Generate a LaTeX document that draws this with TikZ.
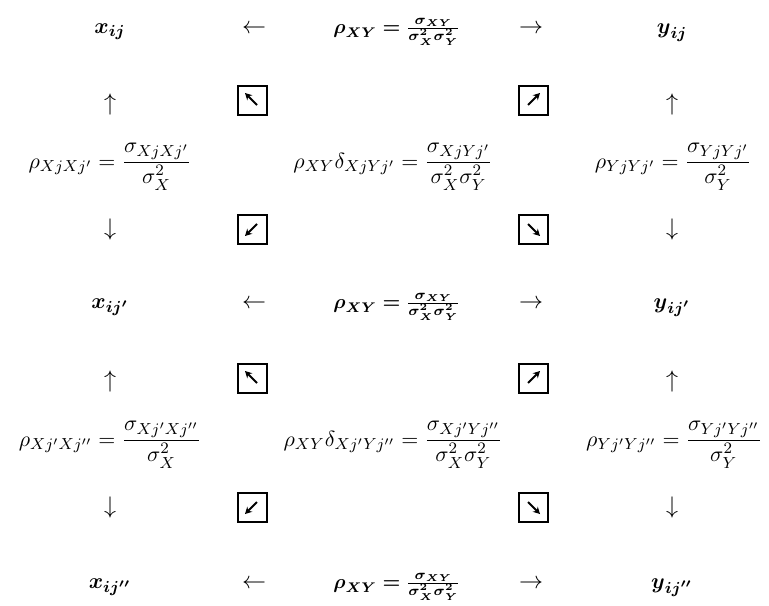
\documentclass[tikz,border=0pt]{standalone}
\usepackage{amsmath}
\usetikzlibrary{arrows.meta}
\newcommand{\bsy}[1]{\boldsymbol{#1}}
\newcommand{\bigrho}{\bsy{\rho}_{\bsy{XY}}\bsy{=}\tfrac{\bsy{\sigma}_{\bsy{XY}}}{\bsy{\sigma}^{\bsy{2}}_{\bsy{X}}\bsy{\sigma}^{\bsy{2}}_{\bsy{Y}}}}
\tikzset{
  mtxt/.style={inner sep=0pt, anchor=base},
  btxt/.style={inner sep=0pt, anchor=base, font=\fontsize{10.95}{13}\selectfont},
  etxt/.style={inner sep=0pt, anchor=base, font=\fontsize{10.95}{13}\selectfont},
  atxt/.style={inner sep=0pt, anchor=base, font=\large},
  vtxt/.style={inner sep=0pt, anchor=center, font=\large},
  abox/.style={draw, line width=1pt, minimum size=14.5pt, inner sep=0pt},
  darr/.style={line width=0.9pt, -{Stealth[length=3.4pt,width=3.6pt]}}
}
\begin{document}
\begin{tikzpicture}[x=0.5pt,y=-0.5pt]
\useasboundingbox (0,0) rectangle (769,605);
% row 1
\node[btxt] (x1) at (110,33) {$\bsy{x}_{\bsy{ij}}$};
\node[atxt] (l1) at (254,33) {$\leftarrow$};
\node[mtxt] (c1) at (397,33) {$\bigrho$};
\node[atxt] (r1) at (531,33) {$\rightarrow$};
\node[btxt] (y1) at (672,33) {$\bsy{y}_{\bsy{ij}}$};
% row 2
\node[vtxt] (u1) at (110,104) {$\uparrow$};
\node[abox] (b1) at (252,100) {};
\node[abox] (b2) at (533,100) {};
\node[vtxt] (u2) at (672,104) {$\uparrow$};
\draw[darr] ([shift={(5,5)}]b1.center) -- ([shift={(-7,-7)}]b1.center);
\draw[darr] ([shift={(-5,5)}]b2.center) -- ([shift={(7,-7)}]b2.center);
% row 3
\node[etxt] (e1) at (110,168) {$\rho_{XjXj'}=\dfrac{\sigma_{XjXj'}}{\sigma_X^2}$};
\node[etxt] (e2) at (393,168) {$\rho_{XY}\delta_{XjYj'}=\dfrac{\sigma_{XjYj'}}{\sigma_X^2\sigma_Y^2}$};
\node[etxt] (e3) at (673,168) {$\rho_{YjYj'}=\dfrac{\sigma_{YjYj'}}{\sigma_Y^2}$};
% row 4
\node[vtxt] (d1) at (110,229) {$\downarrow$};
\node[abox] (b3) at (252,229) {};
\node[abox] (b4) at (533,229) {};
\node[vtxt] (d2) at (672,229) {$\downarrow$};
\draw[darr] ([shift={(5,-5)}]b3.center) -- ([shift={(-7,7)}]b3.center);
\draw[darr] ([shift={(-5,-5)}]b4.center) -- ([shift={(7,7)}]b4.center);
% row 5
\node[btxt] (x2) at (110,308) {$\bsy{x}_{\bsy{ij'}}$};
\node[atxt] (l2) at (254,308) {$\leftarrow$};
\node[mtxt] (c2) at (397,308) {$\bigrho$};
\node[atxt] (r2) at (531,308) {$\rightarrow$};
\node[btxt] (y2) at (672,308) {$\bsy{y}_{\bsy{ij'}}$};
% row 6
\node[vtxt] (u3) at (110,381) {$\uparrow$};
\node[abox] (b5) at (252,378) {};
\node[abox] (b6) at (533,378) {};
\node[vtxt] (u4) at (672,381) {$\uparrow$};
\draw[darr] ([shift={(5,5)}]b5.center) -- ([shift={(-7,-7)}]b5.center);
\draw[darr] ([shift={(-5,5)}]b6.center) -- ([shift={(7,-7)}]b6.center);
% row 7
\node[etxt] (e4) at (110,446) {$\rho_{Xj'Xj''}=\dfrac{\sigma_{Xj'Xj''}}{\sigma_X^2}$};
\node[etxt] (e5) at (393,446) {$\rho_{XY}\delta_{Xj'Yj''}=\dfrac{\sigma_{Xj'Yj''}}{\sigma_X^2\sigma_Y^2}$};
\node[etxt] (e6) at (674,446) {$\rho_{Yj'Yj''}=\dfrac{\sigma_{Yj'Yj''}}{\sigma_Y^2}$};
% row 8
\node[vtxt] (d3) at (110,507) {$\downarrow$};
\node[abox] (b7) at (252,507) {};
\node[abox] (b8) at (533,507) {};
\node[vtxt] (d4) at (672,507) {$\downarrow$};
\draw[darr] ([shift={(5,-5)}]b7.center) -- ([shift={(-7,7)}]b7.center);
\draw[darr] ([shift={(-5,-5)}]b8.center) -- ([shift={(7,7)}]b8.center);
% row 9
\node[btxt] (x3) at (110,588) {$\bsy{x}_{\bsy{ij''}}$};
\node[atxt] (l3) at (254,588) {$\leftarrow$};
\node[mtxt] (c3) at (397,588) {$\bigrho$};
\node[atxt] (r3) at (531,588) {$\rightarrow$};
\node[btxt] (y3) at (672,588) {$\bsy{y}_{\bsy{ij''}}$};
\end{tikzpicture}
\end{document}
